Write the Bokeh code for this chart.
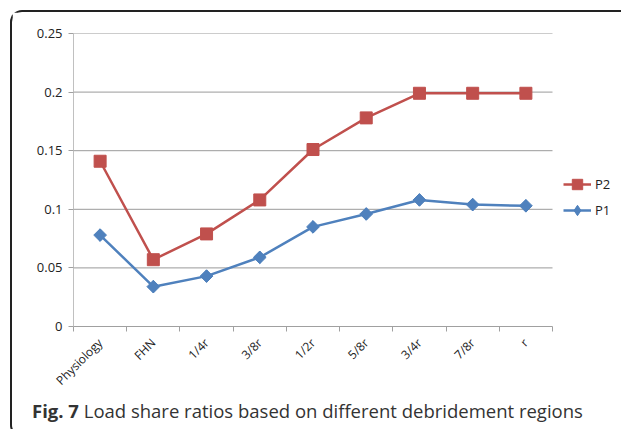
import math
from bokeh.plotting import figure
from bokeh.layouts import column
from bokeh.models import (ColumnDataSource, FixedTicker, Legend, LegendItem, Div, Range1d)
from bokeh.embed import file_html
from bokeh.resources import INLINE

categories = ["Physiology", "FHN", "1/4r", "3/8r", "1/2r", "5/8r", "3/4r", "7/8r", "r"]
p2_values = [0.141, 0.057, 0.079, 0.108, 0.151, 0.178, 0.199, 0.199, 0.199]
p1_values = [0.078, 0.034, 0.043, 0.059, 0.085, 0.096, 0.108, 0.104, 0.103]
y_ticks = [0, 0.05, 0.1, 0.15, 0.2, 0.25]
y_tick_labels = ["0", "0.05", "0.1", "0.15", "0.2", "0.25"]
caption_bold = "Fig. 7"
caption_rest = "Load share ratios based on different debridement regions"

n = len(categories)
xpos = [i + 0.5 for i in range(n)]
src = ColumnDataSource(dict(x=xpos, p1=p1_values, p2=p2_values))

RED = "#C0504D"
BLUE = "#4F81BD"
FONT = "Open Sans"

# plot area spans 479 px for the categories; extra room on the right holds the legend
x_end = n * 544 / 479

p = figure(width=605, height=385, output_backend="svg", toolbar_location=None,
           x_range=Range1d(0, x_end), y_range=Range1d(0, 0.25),
           min_border_left=61, min_border_right=0, min_border_top=21, min_border_bottom=65)
p.outline_line_color = None
p.background_fill_color = "white"
p.border_fill_color = "white"

# horizontal gridlines limited to the category span
p.xgrid.visible = False
p.ygrid.visible = False
grid_src = ColumnDataSource(dict(y=y_ticks[1:], x0=[0] * (len(y_ticks) - 1),
                                 x1=[n] * (len(y_ticks) - 1)))
p.segment(x0="x0", x1="x1", y0="y", y1="y", source=grid_src,
          line_color="#9a9a9a", line_width=1)

l2 = p.line("x", "p2", source=src, line_color=RED, line_width=2.5)
m2 = p.scatter("x", "p2", source=src, marker="square", size=12, fill_color=RED, line_color=RED)
l1 = p.line("x", "p1", source=src, line_color=BLUE, line_width=2.5)
d1 = p.scatter("x", "p1", source=src, marker="diamond", size=12,
               fill_color=BLUE, line_color=BLUE)
m1 = p.scatter("x", "p1", source=src, marker="square", angle=math.pi / 4, size=9,
               fill_color=BLUE, line_color=BLUE)

p.yaxis.ticker = FixedTicker(ticks=y_ticks)
p.yaxis.major_label_overrides = {t: s for t, s in zip(y_ticks, y_tick_labels)}
p.yaxis.axis_line_color = "#c0c0c0"
p.yaxis.major_tick_line_color = "#a0a0a0"
p.yaxis.major_tick_out = 5
p.yaxis.major_tick_in = 0
p.yaxis.minor_tick_line_color = None
p.yaxis.major_label_standoff = 6
p.yaxis.major_label_text_font = FONT
p.yaxis.major_label_text_font_size = "13px"
p.yaxis.major_label_text_color = "#222222"

p.xaxis.bounds = (0, n)
p.xaxis.ticker = FixedTicker(ticks=xpos, minor_ticks=list(range(n + 1)))
p.xaxis.major_label_overrides = {x: c for x, c in zip(xpos, categories)}
p.xaxis.major_label_orientation = math.pi / 4
p.xaxis.axis_line_color = "#a0a0a0"
p.xaxis.major_tick_line_color = None
p.xaxis.minor_tick_line_color = "#a0a0a0"
p.xaxis.minor_tick_out = 5
p.xaxis.minor_tick_in = 0
p.xaxis.major_label_standoff = 8
p.xaxis.major_label_text_font = FONT
p.xaxis.major_label_text_font_size = "12px"
p.xaxis.major_label_text_color = "#222222"

legend = Legend(items=[LegendItem(label="P2", renderers=[l2, m2]),
                       LegendItem(label="P1", renderers=[l1, d1])],
                location=(490, 103), padding=0, margin=0, spacing=0,
                glyph_width=28, glyph_height=26, label_standoff=4,
                label_text_font=FONT, label_text_font_size="13px",
                label_text_color="#222222", background_fill_alpha=0,
                border_line_color=None)
p.add_layout(legend)

cap = Div(text=f"<b>{caption_bold}</b> {caption_rest}", width=605, height=28,
          styles={"font-family": FONT, "font-size": "18.5px", "color": "#333333",
                  "padding-left": "15px", "line-height": "18px", "white-space": "nowrap"})

layout = column(p, cap, margin=(10, 0, 0, 10), spacing=0,
                styles={"border-top": "2px solid #222", "border-left": "2px solid #222",
                        "border-bottom": "2px solid #222", "border-right": "none",
                        "border-radius": "12px 0 0 12px", "background": "white"})

open("out.html", "w").write(file_html(layout, INLINE))
